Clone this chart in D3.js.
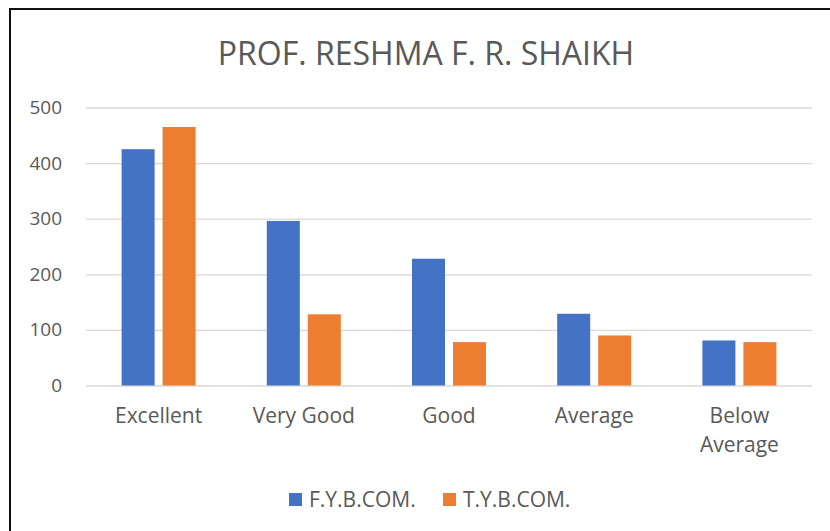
<!DOCTYPE html>
<html>
<head>
<meta charset="utf-8">
<script src="https://cdn.jsdelivr.net/npm/d3@7"></script>
<style>
  body { margin: 0; background: #fff; }
  text { font-family: "Open Sans", "Noto Sans", sans-serif; fill: #595959; }
</style>
</head>
<body>
<div id="chart"></div>
<script>
width = 830;
height = 531;

// data
var categories = ["Excellent", "Very Good", "Good", "Average", "Below Average"];
var seriesNames = ["F.Y.B.COM.", "T.Y.B.COM."];
var fybcom = [425, 296, 228, 129, 81];
var tybcom = [465, 128, 78, 90, 78];
var yTicks = [0, 100, 200, 300, 400, 500];
var colors = ["#4472C4", "#ED7D31"];

var values = [fybcom, tybcom];

var svg = d3.select("#chart")
    .append("svg")
    .attr("width", width)
    .attr("height", height);

// chart frame (runs off the right and bottom edge, like the screenshot)
svg.append("rect")
    .attr("x", 10)
    .attr("y", 9)
    .attr("width", width)
    .attr("height", height)
    .attr("fill", "#fff")
    .attr("stroke", "#111")
    .attr("stroke-width", 2);

// title
svg.append("text")
    .attr("x", 426)
    .attr("y", 65)
    .attr("text-anchor", "middle")
    .style("font-size", "32px")
    .text("PROF. RESHMA F. R. SHAIKH");

var plotLeft = 86, plotRight = 812;

var x0 = d3.scaleBand()
    .domain(categories)
    .range([plotLeft, plotRight])
    .padding(0);

var x1 = d3.scaleBand()
    .domain(seriesNames)
    .range([0, x0.bandwidth()])
    .paddingInner(0.195)
    .paddingOuter(0.868);

var y = d3.scaleLinear()
    .domain([0, 500])
    .range([385.5, 107.5]);

// gridlines + y labels
var yAxis = d3.axisLeft(y)
    .tickValues(yTicks)
    .tickSize(-(plotRight - plotLeft))
    .tickPadding(24);

var gy = svg.append("g")
    .attr("transform", "translate(" + plotLeft + ",0)")
    .call(yAxis);

gy.select(".domain").remove();
gy.selectAll(".tick line")
    .attr("stroke", "#d9d9d9")
    .attr("stroke-width", 1.3);
gy.selectAll(".tick text")
    .style("font-size", "19px")
    .style("font-family", "'Open Sans', sans-serif")
    .attr("fill", "#595959");

// bars
var groups = svg.selectAll(".cat")
    .data(categories)
    .enter()
    .append("g")
    .attr("class", "cat")
    .attr("transform", d => "translate(" + x0(d) + ",0)");

groups.selectAll("rect")
    .data((d, i) => seriesNames.map((s, j) => ({ series: s, value: values[j][i], idx: j })))
    .enter()
    .append("rect")
    .attr("x", d => x1(d.series))
    .attr("y", d => y(d.value))
    .attr("width", x1.bandwidth())
    .attr("height", d => y(0) - y(d.value))
    .attr("fill", d => colors[d.idx]);

// category labels
var xAxis = d3.axisBottom(x0).tickSize(0).tickPadding(23);
var gx = svg.append("g")
    .attr("transform", "translate(0," + y(0) + ")")
    .call(xAxis);
gx.select(".domain").remove();
gx.selectAll(".tick text")
    .style("font-size", "21px")
    .style("font-family", "'Open Sans', sans-serif")
    .attr("fill", "#595959")
    .call(wrap, 125);

function wrap(texts, maxW) {
    texts.each(function() {
        var t = d3.select(this);
        if (this.getComputedTextLength() <= maxW) return;
        var words = t.text().split(" ");
        var dy = t.attr("dy");
        t.text(null);
        words.forEach(function(w, i) {
            t.append("tspan")
                .attr("x", 0)
                .attr("dy", i == 0 ? dy : "1.38em")
                .text(w);
        });
    });
}

// legend
var legend = svg.append("g").attr("transform", "translate(289,493)");
var legendX = [0, 154];
seriesNames.forEach(function(s, i) {
    var g = legend.append("g").attr("transform", "translate(" + legendX[i] + ",0)");
    g.append("rect")
        .attr("width", 13)
        .attr("height", 13)
        .attr("fill", colors[i]);
    g.append("text")
        .attr("x", 20)
        .attr("y", 14)
        .style("font-size", "21px")
        .text(s);
});
</script>
</body>
</html>
